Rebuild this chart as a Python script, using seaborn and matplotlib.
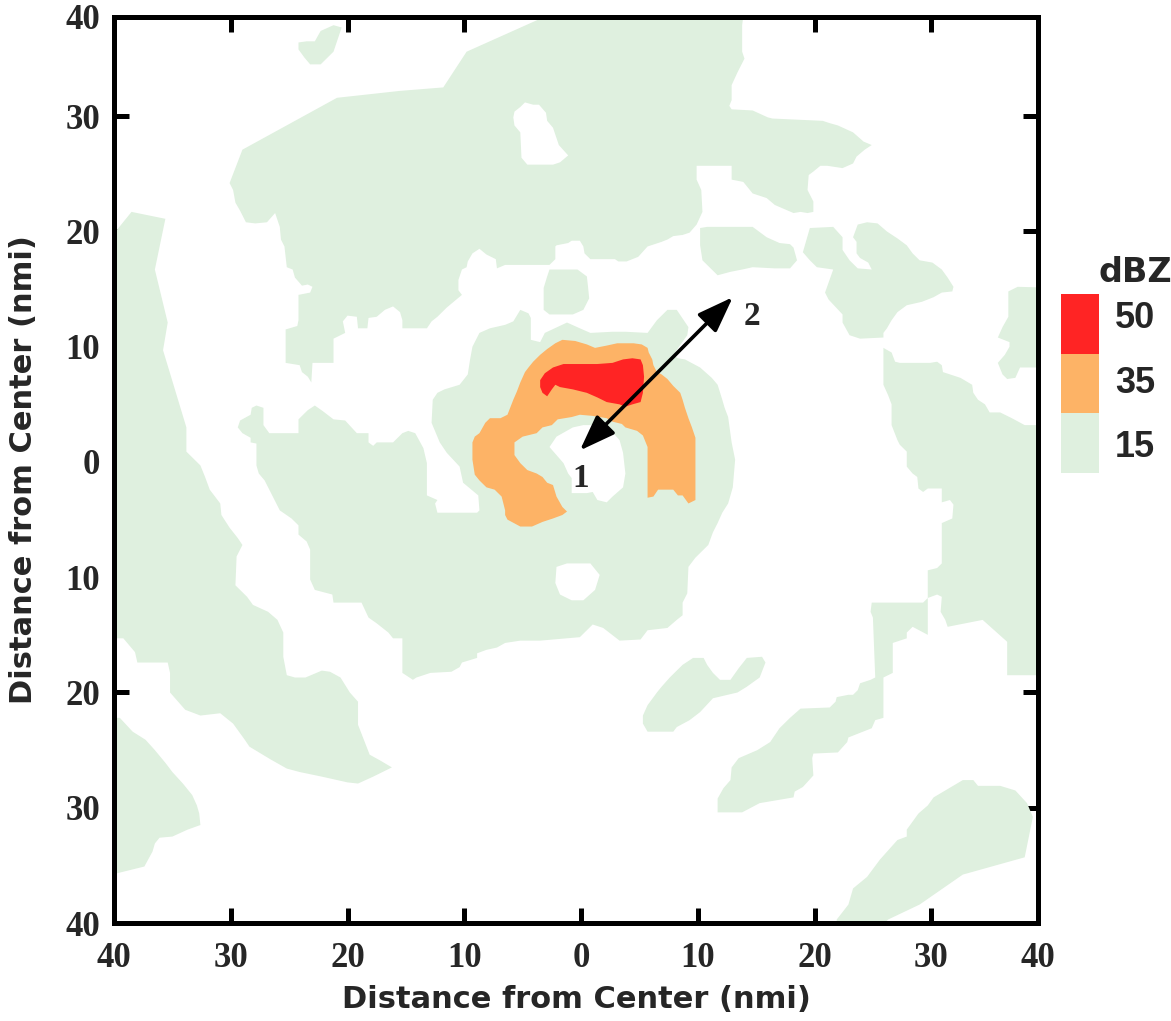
import numpy as np
import matplotlib
matplotlib.use("Agg")
import matplotlib.pyplot as plt
import seaborn as sns
from matplotlib.colors import ListedColormap

# ---------------- data (boundaries of reflectivity regions, in nmi) ----------------
NORTH_15 = [(-30.1,24.2),(-29.0,27.1),(-20.9,31.6),(-15.5,32.2),(-11.8,32.5),(-9.8,35.6),(-1.2,39.5),(14.0,39.5),
    (13.8,37.9),(13.8,35.6),(14.0,35.0),(13.4,33.8),(12.9,32.7),(12.9,31.4),(12.7,30.9),(12.9,30.6),(14.7,30.5),
    (16.0,29.9),(16.4,29.8),(20.7,29.6),(21.3,29.4),(22.0,29.2),(23.3,28.6),(24.2,27.8),(24.9,27.5),(24.3,27.1),
    (23.6,26.5),(23.3,25.9),(22.4,25.5),(21.1,25.7),(20.5,25.7),(19.9,25.2),(19.5,24.9),(19.4,23.6),(19.9,22.6),
    (19.9,21.7),(19.4,21.6),(18.8,21.7),(18.2,21.6),(16.6,22.3),(15.9,22.9),(14.7,23.3),(13.9,24.3),(12.9,24.5),
    (12.9,25.7),(9.9,25.7),(9.9,24.5),(10.3,23.6),(10.4,21.7),(9.9,20.6),(9.3,19.9),(8.7,19.7),(7.9,19.6),
    (7.4,19.3),(6.9,19.1),(5.7,18.7),(4.9,17.8),(3.9,17.4),(3.2,17.4),(2.9,17.6),(0.8,17.6),(0.3,18.1),(0.2,18.7),
    (-0.1,19.2),(-0.8,19.2),(-1.1,19.0),(-2.1,18.8),(-2.2,18.7),(-2.2,17.6),(-2.7,17.1),(-6.5,17.1),(-7.2,16.8),
    (-7.3,17.6),(-8.1,18.0),(-8.7,18.5),(-9.3,18.1),(-9.7,17.4),(-9.8,16.9),(-10.2,16.7),(-10.5,15.8),(-10.5,14.9),
    (-10.2,14.5),(-11.5,13.4),(-11.9,13.0),(-12.3,12.6),(-12.8,12.2),(-13.2,11.6),(-15.3,11.6),(-15.3,12.3),
    (-15.5,13.0),(-16.1,13.5),(-16.8,13.2),(-17.5,12.6),(-18.2,12.5),(-18.3,11.6),(-19.1,11.6),(-19.2,12.6),
    (-20.0,12.7),(-20.4,12.2),(-20.2,11.2),(-21.2,10.7),(-21.2,8.6),(-23.0,8.6),(-23.1,6.9),(-23.4,7.4),
    (-23.9,7.8),(-24.1,8.4),(-25.3,8.6),(-25.3,11.5),(-24.3,11.8),(-24.2,12.3),(-24.2,14.5),(-23.2,14.7),
    (-23.0,15.2),(-23.4,15.4),(-23.9,15.3),(-24.5,16.0),(-24.7,16.7),(-25.2,16.9),(-25.4,18.7),(-25.7,19.3),
    (-25.8,20.4),(-26.2,21.6),(-26.9,20.8),(-27.9,20.7),(-28.7,20.8),(-29.2,21.8),(-29.6,22.5),(-29.8,23.6)]

TOPLEFT_15 = [(-24.2,36.4),(-23.5,36.5),(-22.8,36.5),(-22.3,37.4),(-21.2,37.9),(-20.5,37.7),(-21.2,35.6),
    (-22.3,34.5),(-23.2,34.5),(-23.7,35.1),(-24.2,35.8)]

SMALL_N_15 = [(-2.7,16.7),(-0.3,16.7),(0.5,16.1),(0.6,15.2),(0.7,14.2),(0.2,13.2),(-0.7,12.8),(-2.7,12.8),
    (-3.2,13.2),(-3.2,15.1),(-2.9,16.1)]

WEST_15 = [(-41,20.2),(-39.7,20.2),(-38.5,21.7),(-35.6,21.1),(-36.5,16.7),(-35.4,12.1),(-35.8,9.7),(-33.8,3.0),
    (-33.8,0.9),(-33.3,0.4),(-32.6,-0.3),(-32.2,-1.3),(-31.8,-2.4),(-30.9,-3.6),(-30.8,-4.6),(-30.1,-5.7),
    (-29.4,-6.6),(-29.0,-7.2),(-29.5,-8.2),(-29.6,-10.7),(-28.6,-11.7),(-28.1,-12.4),(-26.8,-13.0),(-26.0,-13.7),
    (-25.5,-14.8),(-25.5,-16.9),(-25.2,-18.5),(-24.5,-18.7),(-23.6,-18.7),(-22.2,-18.1),(-21.5,-18.2),
    (-20.6,-18.7),(-19.8,-20.0),(-19.1,-20.8),(-19.1,-22.8),(-18.1,-25.4),(-17.2,-25.9),(-16.2,-26.5),
    (-17.2,-27.0),(-17.8,-27.3),(-19.1,-27.9),(-20.0,-27.8),(-22.2,-27.3),(-24.1,-26.9),(-25.2,-26.6),
    (-26.6,-25.8),(-28.4,-24.7),(-28.8,-24.1),(-29.8,-22.7),(-30.9,-21.8),(-32.6,-22.0),(-33.9,-21.5),
    (-35.2,-20.0),(-35.2,-18.3),(-35.4,-17.4),(-38.0,-17.4),(-38.2,-16.5),(-39.2,-15.3),(-41,-15.3)]

SOUTHWEST_15 = [(-41,-22.2),(-39.5,-22.2),(-38.4,-23.4),(-37.3,-24.1),(-36.5,-25.0),(-35.6,-26.1),(-35.0,-26.9),
    (-34.1,-27.9),(-33.3,-28.9),(-32.9,-29.8),(-32.7,-30.5),(-32.6,-31.5),(-33.7,-31.9),(-35.0,-32.5),
    (-36.1,-32.6),(-36.5,-33.1),(-36.7,-33.8),(-37.4,-35.1),(-41,-36.0)]

CENTRAL_15 = [(-9.3,10.0),(-9.5,8.9),(-9.7,7.6),(-10.4,6.7),(-11.7,6.3),(-12.3,6.0),(-12.7,5.4),(-12.8,3.4),
    (-12.1,1.7),(-11.5,0.8),(-10.4,-0.4),(-10.1,-1.8),(-8.8,-2.9),(-8.7,-4.2),(-8.9,-4.4),(-12.3,-4.4),
    (-12.5,-3.6),(-12.3,-3.3),(-13.2,-2.9),(-13.2,-0.1),(-13.5,1.2),(-14.2,2.5),(-14.8,2.7),(-15.3,2.5),
    (-16.1,1.7),(-17.5,1.7),(-17.8,1.4),(-18.2,1.7),(-18.2,2.5),(-19.2,2.5),(-20.2,3.6),(-21.2,3.7),(-22.1,4.4),
    (-22.8,4.9),(-23.4,4.5),(-24.2,3.7),(-24.2,2.5),(-26.7,2.5),(-27.2,3.2),(-27.2,4.7),(-27.8,4.9),(-28.2,4.7),
    (-28.3,4.1),(-29.2,3.6),(-29.4,3.0),(-29.0,2.5),(-28.3,2.1),(-28.3,1.7),(-27.8,1.6),(-27.8,-0.3),
    (-27.6,-1.0),(-27.1,-1.6),(-25.8,-4.2),(-24.8,-4.9),(-24.2,-5.5),(-24.2,-6.3),(-23.5,-6.9),(-23.2,-7.6),
    (-23.2,-10.2),(-22.8,-11.1),(-21.3,-11.5),(-21.2,-12.2),(-18.8,-12.2),(-18.2,-13.5),(-17.5,-14.0),
    (-16.5,-14.8),(-16.1,-15.3),(-15.3,-15.3),(-15.3,-18.3),(-14.4,-18.9),(-14.1,-18.7),(-12.9,-18.3),
    (-11.1,-18.2),(-10.4,-17.8),(-10.2,-17.4),(-8.9,-17.0),(-8.9,-16.6),(-8.1,-16.3),(-7.2,-16.1),(-6.5,-15.7),
    (-5.2,-15.5),(-3.5,-15.5),(-0.1,-15.2),(1.0,-14.1),(1.9,-14.4),(3.3,-15.5),(5.1,-15.4),(5.7,-14.6),
    (7.4,-14.4),(8.2,-13.7),(8.7,-13.3),(8.7,-12.2),(9.1,-11.4),(9.2,-9.1),(9.8,-8.3),(10.9,-7.2),(11.3,-6.1),
    (11.7,-5.3),(12.1,-4.4),(12.6,-3.6),(13.0,-2.2),(13.2,0.2),(12.9,1.7),(12.6,3.9),(12.3,4.7),(12.1,5.4),
    (11.7,6.7),(11.2,7.3),(10.2,8.2),(8.9,8.9),(8.3,9.0),(7.9,9.3),(9.1,11.0),(9.2,11.7),(8.2,13.2),(7.4,13.2),
    (6.5,12.3),(5.7,11.2),(3.8,11.3),(2.7,11.3),(0.8,11.2),(-0.1,11.6),(-1.2,12.1),(-3.1,11.2),(-3.5,10.4),
    (-4.3,10.6),(-4.3,12.5),(-4.5,12.9),(-5.2,13.2),(-5.8,12.2),(-6.5,11.9),(-7.8,11.6),(-8.7,11.2)]

NE_LOBE_15 = [(10.2,20.3),(10.8,20.4),(14.7,20.4),(15.9,19.5),(17.0,19.0),(17.9,18.9),(18.2,18.6),(18.5,17.5),
    (17.9,16.8),(16.6,16.8),(14.7,16.9),(13.8,16.7),(12.8,16.5),(11.7,16.2),(11.1,16.8),(10.4,17.5),(10.2,18.8)]

EAST_BLOB_15 = [(19.0,18.2),(19.6,20.3),(21.6,20.4),(22.4,19.5),(22.4,18.4),(23.0,17.5),(23.7,16.8),(24.9,16.7),
    (24.6,17.3),(23.9,17.7),(23.6,18.1),(23.6,19.1),(23.3,19.5),(23.7,20.6),(24.5,20.8),(25.4,20.7),(26.2,20.0),
    (27.1,19.4),(27.9,18.8),(28.4,18.1),(29.0,17.5),(30.1,17.3),(30.9,16.7),(31.4,16.0),(31.9,15.2),(31.8,14.8),
    (30.9,14.7),(30.2,14.3),(29.2,13.9),(27.9,13.6),(27.1,13.0),(26.6,12.3),(26.2,11.6),(25.9,11.2),(25.9,10.8),
    (23.9,10.7),(23.0,11.0),(22.4,12.1),(22.4,12.8),(21.2,14.1),(20.9,14.7),(21.6,16.7),(20.2,16.9),(19.6,17.5)]

EDGE_E_15 = [(36.6,14.8),(37.4,15.2),(41,15.1),(41,8.2),(37.6,8.2),(37.2,7.3),(36.5,7.2),(36.1,7.6),(35.7,8.6),
    (36.3,9.3),(36.7,10.0),(36.7,10.4),(35.7,10.8),(36.1,11.7),(36.6,12.6)]

EAST_15 = [(25.9,9.9),(26.6,9.5),(26.9,8.7),(27.3,8.6),(29.9,8.6),(30.5,8.7),(30.9,8.4),(31.0,7.8),(31.6,7.6),
    (32.5,7.3),(33.5,6.7),(33.6,6.0),(34.0,5.4),(34.6,5.0),(35.0,4.3),(35.9,4.3),(36.9,3.8),(38.0,3.2),(41,3.2),
    (41,-18.5),(36.5,-18.5),(36.5,-15.6),(34.4,-13.7),(31.4,-14.3),(31.2,-13.7),(30.8,-13.0),(30.9,-11.7),
    (30.5,-11.5),(29.7,-11.8),(29.7,-9.4),(30.5,-9.2),(30.9,-8.8),(30.9,-5.3),(31.8,-4.9),(31.9,-3.7),
    (31.6,-3.3),(30.9,-3.5),(30.9,-2.3),(29.7,-2.3),(29.3,-2.6),(28.9,-2.3),(28.8,-1.3),(28.4,-1.0),(27.9,-0.4),
    (27.9,0.9),(27.3,1.5),(27.1,1.9),(26.6,3.2),(26.6,5.0),(26.3,5.8),(25.9,6.7),(25.9,8.6)]

SOUTHEAST_15 = [(24.9,-12.2),(29.3,-12.2),(29.7,-11.8),(29.7,-15.0),(28.4,-14.3),(27.9,-14.8),(27.9,-15.3),
    (26.7,-15.7),(26.7,-18.3),(25.9,-18.7),(25.9,-22.2),(25.2,-22.4),(24.9,-23.1),(22.9,-23.9),(22.8,-24.3),
    (22.0,-25.2),(19.9,-25.3),(19.8,-25.7),(19.9,-27.2),(19.0,-28.2),(18.3,-28.6),(18.2,-29.1),(15.3,-29.6),
    (13.8,-30.4),(11.7,-30.4),(11.7,-29.2),(12.2,-28.3),(12.8,-27.6),(12.9,-26.5),(13.5,-25.7),(15.1,-25.0),
    (16.2,-24.3),(16.6,-23.7),(17.0,-23.1),(17.9,-22.2),(18.8,-21.4),(21.3,-21.3),(21.8,-20.8),(21.9,-20.4),
    (22.9,-20.2),(23.3,-20.2),(23.7,-19.8),(23.9,-19.2),(24.8,-18.9),(25.2,-18.7),(25.0,-13.5),(24.8,-13.0)]

SOUTH_BLOB_15 = [(5.3,-22.0),(5.7,-21.1),(6.5,-20.0),(6.9,-19.5),(7.6,-18.7),(8.7,-17.6),(9.6,-17.0),(10.5,-17.0),
    (10.8,-17.6),(11.3,-18.3),(11.9,-18.9),(12.8,-18.9),(13.5,-17.9),(14.2,-17.0),(15.5,-16.9),(15.8,-17.4),
    (15.3,-18.7),(14.2,-19.5),(13.4,-20.0),(11.3,-20.5),(10.2,-21.7),(9.3,-22.4),(8.2,-23.0),(7.9,-23.4),
    (5.7,-23.4),(5.3,-22.7)]

SE_CORNER_15 = [(21.9,-41),(21.9,-39.7),(22.9,-38.4),(23.3,-37.0),(24.5,-36.0),(25.6,-34.5),(27.1,-32.8),
    (27.9,-32.5),(27.9,-31.9),(28.9,-30.5),(29.7,-29.8),(30.2,-29.1),(31.2,-28.5),(32.7,-27.6),(33.6,-27.6),
    (34.0,-28.1),(35.9,-28.1),(37.2,-28.5),(38.2,-29.6),(38.7,-30.8),(38.0,-34.3),(32.7,-35.8),(29.0,-38.4),
    (26.3,-39.7),(25.0,-41)]

# echo-free gaps inside the 15 dBZ areas
GAP_NORTH = [(-5.2,30.8),(-4.8,31.2),(-4.1,31.0),(-3.6,31.0),(-3.0,30.3),(-2.9,29.6),(-2.4,29.0),(-1.9,27.5),
    (-1.1,26.6),(-1.8,26.0),(-2.4,25.8),(-4.6,25.8),(-5.1,26.4),(-5.2,28.6),(-5.7,29.2),(-5.8,29.9),(-5.7,30.4)]
GAP_EYE = [(-2.7,1.3),(-2.1,2.2),(-0.7,3.0),(0.2,3.2),(1.4,3.2),(2.5,2.8),(3.3,1.9),(3.6,0.8),(3.8,-1.0),
    (3.6,-2.2),(2.7,-3.0),(2.2,-3.5),(1.4,-3.3),(1.0,-2.6),(0.5,-2.7),(-0.8,-2.7),(-0.8,-1.4),(-1.1,-1.0),
    (-1.5,-0.1),(-2.1,0.6)]
GAP_SOUTH = [(-2.1,-9.1),(-1.2,-8.8),(0.8,-8.8),(1.6,-9.8),(1.2,-11.1),(0.2,-12.0),(-0.8,-12.0),(-1.8,-11.5),
    (-2.2,-10.5)]

RING_35 = [(-9.1,2.2),(-8.7,2.5),(-8.2,3.4),(-7.8,3.8),(-6.9,3.8),(-6.3,4.1),(-5.8,5.4),(-5.5,6.1),(-5.2,6.9),
    (-4.8,7.8),(-4.5,8.2),(-4.1,8.7),(-3.5,9.3),(-2.9,9.8),(-2.2,10.3),(-1.6,10.6),(-0.5,10.5),(0.5,10.2),
    (1.2,9.9),(2.2,10.1),(3.1,10.3),(4.5,10.3),(5.2,10.2),(5.7,9.9),(5.8,9.5),(6.1,8.9),(6.2,8.4),(6.5,7.8),
    (6.9,7.6),(7.4,7.2),(7.9,6.6),(8.5,6.0),(8.7,5.4),(8.9,4.7),(9.2,3.8),(9.5,3.0),(9.8,2.1),(9.8,-3.3),
    (9.2,-3.6),(8.7,-2.9),(8.3,-2.9),(7.9,-2.4),(6.6,-2.4),(6.2,-3.0),(5.7,-3.1),(5.7,-0.4),(5.7,0.4),(5.7,1.3),
    (5.3,2.3),(4.8,2.7),(3.8,3.0),(3.5,3.3),(2.7,3.5),(2.2,3.8),(1.0,4.0),(-0.1,4.1),(-0.8,3.9),(-2.0,3.7),
    (-2.5,3.2),(-3.3,3.0),(-3.8,2.5),(-5.0,2.2),(-5.7,1.7),(-5.7,0.6),(-5.2,-0.1),(-4.6,-0.7),(-3.8,-1.0),
    (-3.3,-1.3),(-2.9,-1.8),(-2.4,-2.0),(-2.1,-3.0),(-1.6,-3.9),(-1.2,-4.3),(-1.6,-4.6),(-2.4,-4.9),(-3.3,-5.2),
    (-4.2,-5.6),(-5.2,-5.6),(-6.3,-5.0),(-6.5,-4.6),(-6.5,-4.2),(-6.8,-3.0),(-7.4,-2.4),(-8.1,-2.2),(-8.7,-1.6),
    (-9.1,-1.1),(-9.3,0.2),(-9.3,1.7)]

CORE_50 = [(-3.5,7.1),(-3.1,7.7),(-2.4,8.2),(-1.5,8.5),(1.4,8.5),(2.7,8.6),(3.6,8.9),(4.4,9.0),(5.1,8.9),
    (5.3,8.4),(5.4,7.4),(5.3,6.0),(5.1,5.2),(4.4,5.0),(3.8,4.8),(3.3,5.0),(2.2,5.2),(1.4,5.6),(0.5,6.0),
    (-0.7,6.3),(-1.8,6.5),(-2.2,6.7),(-2.5,6.3),(-2.9,5.7),(-3.3,6.0),(-3.5,6.5)]

AREAS_15 = [NORTH_15, TOPLEFT_15, SMALL_N_15, WEST_15, SOUTHWEST_15, CENTRAL_15, NE_LOBE_15,
            EAST_BLOB_15, EDGE_E_15, EAST_15, SOUTHEAST_15, SOUTH_BLOB_15, SE_CORNER_15]
GAPS = [GAP_NORTH, GAP_EYE, GAP_SOUTH]

ARROW_FROM = (13.0, 14.3)   # point 2
ARROW_TO = (-0.1, 1.0)      # point 1
POINT_LABELS = [("1", 0.0, -1.4), ("2", 14.65, 12.6)]

LEVELS = [15, 35, 50]
LEVEL_LABELS = ["15", "35", "50"]
X_RANGE = (-40, 39.14)
Y_RANGE = (-40, 38.61)
XTICKS = [-40, -30, -20, -10, 0, 10, 20, 30, 39.14]
YTICKS = [-40, -30, -20, -10, 0, 10, 20, 30, 38.61]
TICK_LABELS = ["40", "30", "20", "10", "0", "10", "20", "30", "40"]

# ---------------- style ----------------
sns.set_theme(style="white")
plt.rcParams['font.family'] = ['Liberation Sans', 'DejaVu Sans']

GREEN, ORANGE, RED = '#dff0df', '#fdb366', '#ff2424'
LEVEL_COLORS = [GREEN, ORANGE, RED]

fig = plt.figure(figsize=(11.71, 10.21), dpi=100)
ax = fig.add_axes([114/1171, 98/1021, 924/1171, 906/1021])
ax.set_facecolor('white')

for poly in AREAS_15:
    xs, ys = zip(*poly)
    ax.fill(xs, ys, facecolor=GREEN, edgecolor='none', zorder=1)
for poly in GAPS:
    xs, ys = zip(*poly)
    ax.fill(xs, ys, facecolor='white', edgecolor='none', zorder=2)
xs, ys = zip(*RING_35)
ax.fill(xs, ys, facecolor=ORANGE, edgecolor='none', zorder=3)
xs, ys = zip(*CORE_50)
ax.fill(xs, ys, facecolor=RED, edgecolor='none', zorder=4)

ax.annotate('', xy=ARROW_TO, xytext=ARROW_FROM,
            arrowprops=dict(arrowstyle='<|-|>,head_length=0.55,head_width=0.2', mutation_scale=40,
                            lw=2.6, color='black', shrinkA=0, shrinkB=0), zorder=6)
for txt, px, py in POINT_LABELS:
    ax.text(px, py, txt, ha='center', va='center', fontsize=24, fontweight='bold',
            family=['Liberation Serif', 'DejaVu Serif'], zorder=7)

ax.set_xlim(*X_RANGE)
ax.set_ylim(*Y_RANGE)
ax.set_xticks(XTICKS)
ax.set_yticks(YTICKS)
tick_font = dict(family=['Liberation Serif', 'DejaVu Serif'], weight='bold', size=25)
ax.set_xticklabels(TICK_LABELS, fontdict=tick_font)
ax.set_yticklabels(TICK_LABELS, fontdict=tick_font)
ax.tick_params(axis='both', which='major', direction='in', length=11, width=3.6,
               top=True, right=True, bottom=True, left=True, color='black')
ax.tick_params(axis='x', pad=14)
ax.tick_params(axis='y', pad=10)
for sp in ax.spines.values():
    sp.set_visible(True)
    sp.set_linewidth(3.6)
    sp.set_color('black')
    sp.set_zorder(10)
ax.grid(False)

label_font = dict(family=['DejaVu Sans'], weight='bold', size=22)
ax.set_xlabel('Distance from Center (nmi)', fontdict=label_font, labelpad=7)
ax.set_ylabel('Distance from Center (nmi)', fontdict=label_font, labelpad=20)

# ---------------- legend (discrete colour key) ----------------
lax = fig.add_axes([1061/1171, (1021-473)/1021, 38/1171, 179/1021])
key = np.array(LEVELS[::-1]).reshape(-1, 1)
sns.heatmap(key, ax=lax, cmap=ListedColormap(LEVEL_COLORS), vmin=min(LEVELS), vmax=max(LEVELS),
            cbar=False, xticklabels=False, yticklabels=False, linewidths=0)
lax.set_axis_off()
label_y = {"50": 328, "35": 393, "15": 457}
for lab in LEVEL_LABELS:
    fig.text(1135/1171, (1021-label_y[lab])/1021, lab, ha='center', va='baseline',
             fontsize=26, fontweight='bold', family=['Liberation Sans'])
fig.text(1135/1171, (1021-282)/1021, 'dBZ', ha='center', va='baseline',
         fontsize=24, fontweight='bold', family=['DejaVu Sans'])

fig.savefig('out.png', dpi=100, facecolor='white')
